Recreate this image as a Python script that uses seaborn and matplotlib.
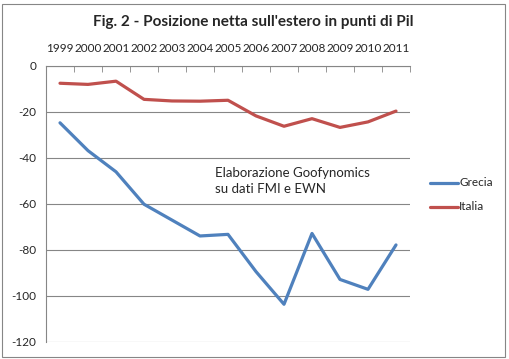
import numpy as np
import pandas as pd
import matplotlib
matplotlib.use("Agg")
import matplotlib.pyplot as plt
import seaborn as sns
from matplotlib.patches import Rectangle

anni = [str(a) for a in range(1999, 2012)]
grecia = [-24.7, -36.8, -46.0, -60.1, -67.0, -73.9, -73.2, -89.4, -103.6, -72.8, -92.8, -97.1, -77.8]
italia = [-7.5, -8.0, -6.6, -14.5, -15.2, -15.3, -14.9, -21.7, -26.2, -22.9, -26.7, -24.3, -19.6]
serie = ["Grecia", "Italia"]
colori = ["#4F81BD", "#C0504D"]

sns.set_style("white")
plt.rcParams["font.family"] = ["Lato", "DejaVu Sans"]
plt.rcParams["axes.unicode_minus"] = False

# formato lungo per seaborn
df = pd.DataFrame({
    "anno": list(range(len(anni))) * 2,
    "valore": grecia + italia,
    "paese": ["Grecia"] * len(anni) + ["Italia"] * len(anni),
})

fig = plt.figure(figsize=(5.09, 3.59), dpi=100)
ax = fig.add_axes([46 / 509, 1 - 342 / 359, 364 / 509, 276 / 359])

sns.lineplot(data=df, x="anno", y="valore", hue="paese", hue_order=serie,
             palette=colori, linewidth=2.3, ax=ax, legend=False)

ax.set_xlim(-0.5, len(anni) - 0.5)
ax.set_ylim(-120, 0)
ax.set_yticks(np.arange(-120, 1, 20))
ax.set_yticklabels([str(v) for v in range(-120, 1, 20)])
ax.grid(axis="y", color="#868686", linewidth=0.8)
ax.set_axisbelow(True)

# asse x in alto, etichette sopra
ax.xaxis.tick_top()
ax.set_xticks(range(len(anni)))
ax.set_xticklabels(anni)
ax.set_xticks(np.arange(-0.5, len(anni)), minor=True)
ax.tick_params(axis="x", which="major", length=0, labelsize=8.5, pad=9)
ax.tick_params(axis="x", which="minor", direction="in", length=4, color="#868686", top=True, bottom=False)
ax.tick_params(axis="y", length=4, color="#868686", labelsize=8.5, pad=3)
ax.set_xlabel("")
ax.set_ylabel("")
for s in ["right", "bottom"]:
    ax.spines[s].set_visible(False)
for s in ["left", "top"]:
    ax.spines[s].set_color("#868686")
    ax.spines[s].set_linewidth(0.8)

fig.text(253 / 509, 1 - 22 / 359, "Fig. 2 - Posizione netta sull'estero in punti di Pil",
         ha="center", va="center", fontsize=11, fontweight="bold")
fig.text(215 / 509, 1 - 181 / 359, "Elaborazione Goofynomics\nsu dati FMI e EWN",
         ha="left", va="center", fontsize=9.5, linespacing=1.35)

# legenda manuale
for i, (nome, col) in enumerate(zip(serie, colori)):
    y = 1 - (183 + i * 24) / 359
    fig.add_artist(plt.Line2D([430 / 509, 458 / 509], [y, y], color=col, linewidth=2.3,
                              transform=fig.transFigure))
    fig.text(459 / 509, y, nome, ha="left", va="center", fontsize=8.5)

fig.add_artist(Rectangle((2 / 509, 2 / 359), 503 / 509, 353 / 359, fill=False,
                         edgecolor="#868686", linewidth=0.8, transform=fig.transFigure))

fig.savefig("out.png", dpi=100)
